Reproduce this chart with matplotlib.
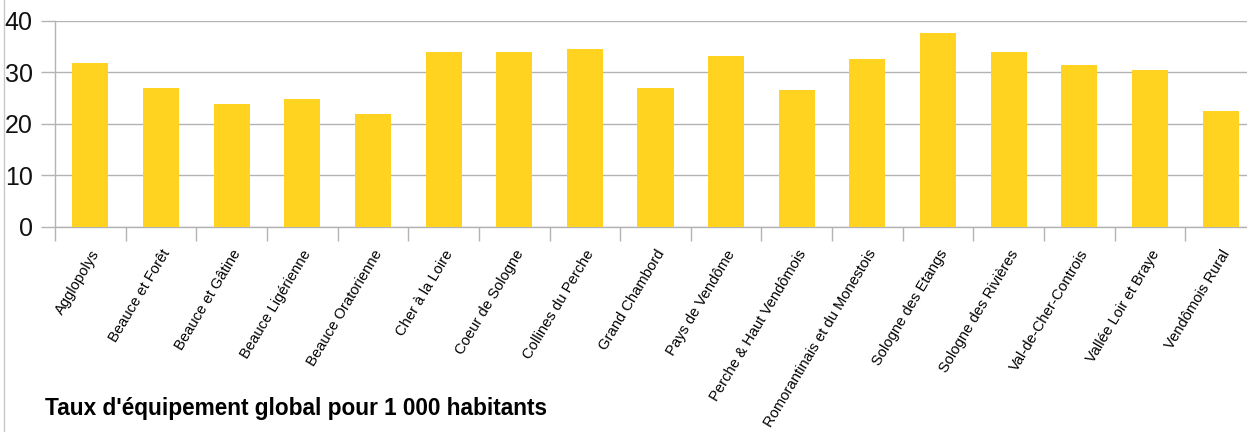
import matplotlib
matplotlib.use("Agg")
import matplotlib.pyplot as plt
import numpy as np
from matplotlib.lines import Line2D

plt.rcParams["font.family"] = ["Liberation Sans", "DejaVu Sans"]

# Data
territoires = [
    "Agglopolys", "Beauce et Forêt", "Beauce et Gâtine", "Beauce Ligérienne",
    "Beauce Oratorienne", "Cher à la Loire", "Coeur de Sologne",
    "Collines du Perche", "Grand Chambord", "Pays de Vendôme",
    "Perche & Haut Vendômois", "Romorantinais et du Monestois",
    "Sologne des Etangs", "Sologne des Rivières", "Val-de-Cher-Controis",
    "Vallée Loir et Braye", "Vendômois Rural",
]
taux = [31.8, 27.0, 23.8, 24.8, 21.9, 34.0, 34.0, 34.5, 27.0, 33.2,
        26.6, 32.6, 37.7, 34.0, 31.4, 30.5, 22.5]
y_ticks = [0, 10, 20, 30, 40]
titre = "Taux d'équipement global pour 1 000 habitants"

BAR_COLOR = "#FFD320"
GRID_COLOR = "#b3b3b3"

W, H = 1247, 432
fig = plt.figure(figsize=(W / 100, H / 100), dpi=100)
# axes run slightly past the right edge, like the cropped original
left, right = 55 / W, 1256 / W
bottom, top = (H - 226.5) / H, (H - 21) / H
ax = fig.add_axes([left, bottom, right - left, top - bottom])

x = np.arange(len(taux))
ax.bar(x, taux, width=0.51, color=BAR_COLOR, zorder=3)

ax.set_xlim(-0.5, len(taux) - 0.5)
ax.set_ylim(0, 40)

# grid + y axis
ax.set_yticks(y_ticks)
ax.yaxis.grid(True, color=GRID_COLOR, linewidth=1, zorder=0)
ax.tick_params(axis="y", direction="out", length=10, width=1,
               color=GRID_COLOR, labelsize=18, pad=6, labelcolor="#111111")

# category labels at centers, tick marks at boundaries
ax.set_xticks(x)
ax.set_xticklabels(territoires, rotation=59, ha="right",
                   rotation_mode="anchor", fontsize=10.6)
ax.tick_params(axis="x", which="major", length=0, pad=15)
ax.set_xticks(np.arange(len(taux) + 1) - 0.5, minor=True)
ax.tick_params(axis="x", which="minor", direction="out", length=10,
               width=1, color=GRID_COLOR)

for side in ["top", "right"]:
    ax.spines[side].set_visible(False)
for side in ["left", "bottom"]:
    ax.spines[side].set_color(GRID_COLOR)
    ax.spines[side].set_linewidth(1)

# light frame line at the left edge of the picture
fig.add_artist(Line2D([3.5 / W, 3.5 / W], [0, 1], color="#c8c8c8",
                      linewidth=1, transform=fig.transFigure))

fig.text(45 / W, (H - 408) / H, titre, fontsize=16.3, fontweight="bold",
         ha="left", va="center", color="#000000")

fig.savefig("out.png", dpi=100, facecolor="white")
